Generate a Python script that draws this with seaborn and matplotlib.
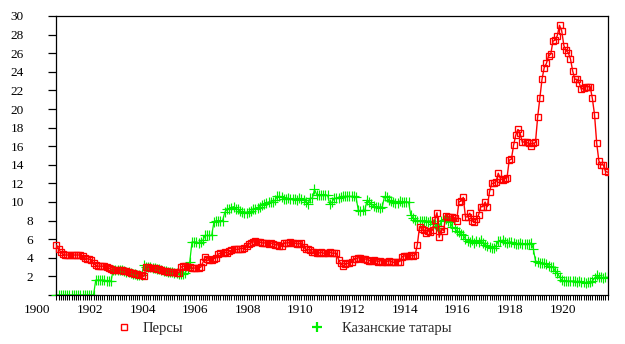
import numpy as np
import pandas as pd
import matplotlib
matplotlib.use("Agg")
import matplotlib.pyplot as plt
import matplotlib.transforms as mtransforms
from matplotlib.lines import Line2D
from matplotlib.ticker import FixedLocator
import seaborn as sns

# ---------------- data ----------------
series_names = ["Персы", "Казанские татары"]
start_year, start_month = 1900, 9   # first monthly observation: September 1900

persians = (
    [5.4, 5.0, 4.6, 4.4] +
    [4.3, 4.3, 4.3, 4.3, 4.3, 4.3, 4.3, 4.3, 4.2, 4.0, 3.9, 3.85] +
    [3.8, 3.4, 3.2, 3.1, 3.1, 3.1, 3.1, 3.0, 2.9, 2.8, 2.7, 2.7] +
    [2.7, 2.7, 2.7, 2.6, 2.6, 2.5, 2.4, 2.4, 2.3, 2.3, 2.2, 2.2] +
    [2.0, 3.0, 3.0, 2.9, 2.9, 2.9, 2.8, 2.8, 2.7, 2.6, 2.6, 2.5] +
    [2.5, 2.5, 2.5, 2.4, 2.4, 3.0, 3.1, 3.1, 3.0, 3.0, 2.9, 2.9] +
    [2.9, 2.9, 3.0, 3.5, 4.1, 3.9, 3.8, 3.8, 3.9, 4.0, 4.4, 4.5] +
    [4.5, 4.6, 4.5, 4.7, 4.8, 4.9, 4.9, 4.9, 5.0, 5.0, 5.1, 5.3] +
    [5.5, 5.6, 5.7, 5.8, 5.7, 5.7, 5.6, 5.6, 5.6, 5.5, 5.6, 5.5] +
    [5.4, 5.4, 5.3, 5.3, 5.6, 5.6, 5.6, 5.7, 5.6, 5.6, 5.5, 5.5] +
    [5.6, 5.2, 4.9, 4.9, 4.8, 4.6, 4.6, 4.5, 4.5, 4.6, 4.5, 4.5] +
    [4.5, 4.6, 4.5, 4.5, 4.5, 3.8, 3.4, 3.1, 3.3, 3.4, 3.4, 3.6] +
    [3.9, 3.9, 4.0, 4.0, 3.9, 3.9, 3.8, 3.7, 3.7, 3.8, 3.7, 3.6] +
    [3.7, 3.6, 3.5, 3.6, 3.7, 3.6, 3.5, 3.6, 3.6, 3.6, 4.1, 4.2] +
    [4.2, 4.2, 4.3, 4.2, 4.3, 5.4, 7.3, 7.15, 7.0, 6.7, 6.9, 6.8] +
    [7.0, 8.1, 8.85, 6.2, 7.15, 6.9, 8.5, 8.4, 8.4, 8.4, 8.3, 8.0] +
    [10.0, 10.1, 10.5, 8.4, 8.4, 8.8, 8.0, 7.8, 8.2, 8.6, 9.5, 9.5] +
    [10.0, 9.5, 11.1, 12.0, 12.0, 12.2, 13.1, 12.5, 12.4, 12.5, 12.6, 14.5] +
    [14.6, 16.1, 17.2, 17.8, 17.4, 16.4, 16.5, 16.4, 16.3, 16.0, 16.3, 16.4] +
    [19.1, 21.2, 23.2, 24.45, 24.9, 25.7, 25.9, 27.3, 27.4, 27.9, 29.0, 28.4] +
    [26.8, 26.3, 26.05, 25.4, 24.1, 23.2, 23.2, 22.8, 22.1, 22.3, 22.4, 22.4] +
    [22.4, 21.15, 19.4, 16.3, 14.4, 14.0, 14.0, 13.3, 13.2]
)

tatars = (
    [0.0, 0.0, 0.0, 0.0] +
    [0.0, 0.0, 0.0, 0.0, 0.0, 0.0, 0.0, 0.0, 0.0, 0.0, 0.0, 0.0] +
    [0.0, 0.0, 1.6, 1.6, 1.6, 1.6, 1.6, 1.5, 1.5, 1.5, 2.7, 2.7] +
    [2.7, 2.7, 2.7, 2.6, 2.5, 2.5, 2.4, 2.3, 2.3, 2.2, 2.1, 2.2] +
    [3.2, 3.0, 3.0, 3.0, 2.9, 2.9, 2.8, 2.8, 2.7, 2.6, 2.6, 2.5] +
    [2.5, 2.5, 2.4, 2.4, 2.3, 2.3, 2.3, 2.4, 2.9, 3.6, 5.7, 5.7] +
    [5.7, 5.6, 5.7, 5.9, 6.4, 6.4, 6.4, 6.4, 7.8, 8.0, 8.0, 8.0] +
    [8.0, 8.9, 9.2, 9.3, 9.4, 9.5, 9.3, 9.2, 9.0, 8.9, 8.8, 8.8] +
    [8.9, 9.0, 9.3, 9.3, 9.4, 9.5, 9.7, 9.8, 9.9, 10.0, 10.0, 10.0] +
    [10.2, 10.6, 10.6, 10.5, 10.3, 10.3, 10.4, 10.3, 10.3, 10.3, 10.2, 10.4] +
    [10.3, 10.2, 10.0, 9.75, 10.4, 10.4, 11.35, 10.8, 10.8, 10.8, 10.8, 10.8] +
    [10.7, 9.75, 10.0, 10.4, 10.4, 10.4, 10.5, 10.6, 10.6, 10.6, 10.6, 10.6] +
    [10.6, 10.5, 9.15, 9.0, 9.1, 9.1, 10.2, 10.0, 9.8, 9.6, 9.5, 9.5] +
    [9.4, 9.5, 10.6, 10.5, 10.2, 10.1, 10.0, 9.9, 9.9, 10.1, 10.0, 10.0] +
    [10.0, 10.0, 8.6, 8.3, 8.1, 8.0, 8.0, 8.0, 8.0, 8.0, 7.9, 8.0] +
    [7.6, 7.6, 7.4, 7.2, 8.0, 8.1, 8.2, 8.0, 7.9, 7.3, 7.2, 6.9] +
    [6.8, 6.6, 6.45, 6.0, 5.8, 5.7, 5.9, 5.6, 5.8, 5.7, 5.9, 5.6] +
    [5.4, 5.3, 5.2, 5.1, 5.1, 5.3, 5.8, 5.8, 5.9, 5.7, 5.6, 5.7] +
    [5.7, 5.6, 5.5, 5.5, 5.6, 5.5, 5.5, 5.5, 5.5, 5.6, 5.0, 3.7] +
    [3.5, 3.4, 3.4, 3.4, 3.3, 3.1, 3.0, 3.0, 2.6, 2.4, 1.95, 1.6] +
    [1.5, 1.5, 1.5, 1.5, 1.5, 1.5, 1.4, 1.5, 1.4, 1.4, 1.3, 1.4] +
    [1.4, 1.5, 1.8, 2.1, 1.9, 1.9, 1.8, 1.9, 1.9]
)

x_ticks = list(range(1900, 1921, 2))
x_tick_labels = [str(v) for v in x_ticks]
y_ticks = list(range(0, 31, 2))
y_tick_labels = ["" if v == 0 else str(v) for v in y_ticks]

# ---------------- build frame ----------------
n = len(persians)
dates = start_year + (start_month - 1 + np.arange(n)) / 12.0 + 0.05
df = pd.DataFrame({
    "date": np.concatenate([dates, dates]),
    "value": persians + tatars,
    "group": [series_names[0]] * n + [series_names[1]] * n,
})

sns.set_theme(style="white")
plt.rcParams["font.family"] = ["Liberation Serif", "DejaVu Serif"]

W, H = 625, 344
fig = plt.figure(figsize=(W / 100, H / 100), dpi=100)
x_left_px, x_right_px, y_top_px, y_bot_px = 37.5, 608, 16, 295
ax = fig.add_axes([x_left_px / W, 1 - y_bot_px / H,
                   (x_right_px - x_left_px) / W, (y_bot_px - y_top_px) / H])

red = "#ff0000"
green = "#00f000"

sns.lineplot(data=df[df["group"] == series_names[1]], x="date", y="value",
             color=green, marker="+", markersize=6.5, markeredgewidth=0.85,
             markeredgecolor=green, linewidth=0.9, estimator=None, sort=False,
             ax=ax, legend=False, zorder=2)
sns.lineplot(data=df[df["group"] == series_names[0]], x="date", y="value",
             color=red, marker="s", markersize=5, markerfacecolor="none",
             markeredgecolor=red, markeredgewidth=0.95, linewidth=1.0,
             estimator=None, sort=False, ax=ax, legend=False, zorder=3)

x_max = 1921.73
ax.set_xlim(1899.999, x_max)
ax.set_ylim(0, 30)
ax.set_xlabel("")
ax.set_ylabel("")

# spines
for s in ["left", "right", "top", "bottom"]:
    ax.spines[s].set_visible(True)
    ax.spines[s].set_color("black")
    ax.spines[s].set_linewidth(0.9)
ax.spines["left"].set_position(("data", dates[0]))
ax.spines["bottom"].set_bounds(dates[0], x_max)
ax.spines["top"].set_bounds(dates[0], x_max)

# ticks
ax.set_xticks(x_ticks)
ax.set_xticklabels(x_tick_labels)
ax.xaxis.set_minor_locator(FixedLocator(dates))
ax.set_yticks(y_ticks)
ax.set_yticklabels(y_tick_labels)

ax.tick_params(axis="x", which="major", length=0, pad=6.5, labelsize=9.5,
               bottom=True, labelcolor="black")
ax.tick_params(axis="x", which="minor", length=3.8, width=0.75, direction="out",
               bottom=True, color="black")
ax.tick_params(axis="y", which="major", length=5.8, width=0.9, direction="out",
               left=True, color="black", pad=17.5, labelsize=9.5, labelcolor="black")

# shift single-digit y labels closer to the axis (as in the reference)
shift = mtransforms.ScaledTranslation(9 / 100, 0, fig.dpi_scale_trans)
for lab in ax.get_yticklabels():
    if len(lab.get_text()) == 1:
        lab.set_transform(lab.get_transform() + shift)

# legends
h_red = Line2D([], [], ls="none", marker="s", ms=5, mfc="none", mec=red, mew=1.0)
h_green = Line2D([], [], ls="none", marker="+", ms=6.5, mec=green, mew=1.6)
leg_y = 1 - 328 / H
leg1 = fig.legend(handles=[h_red], labels=[series_names[0]], loc="center left",
                  bbox_to_anchor=(116.7 / W, leg_y), bbox_transform=fig.transFigure,
                  frameon=False, borderpad=0, borderaxespad=0, handlelength=1.0,
                  handletextpad=0.8, prop={"size": 10.5})
leg2 = fig.legend(handles=[h_green], labels=[series_names[1]], loc="center left",
                  bbox_to_anchor=(309.7 / W, leg_y), bbox_transform=fig.transFigure,
                  frameon=False, borderpad=0, borderaxespad=0, handlelength=1.0,
                  handletextpad=1.2, prop={"size": 10.5})

fig.savefig("out.png", dpi=100)
